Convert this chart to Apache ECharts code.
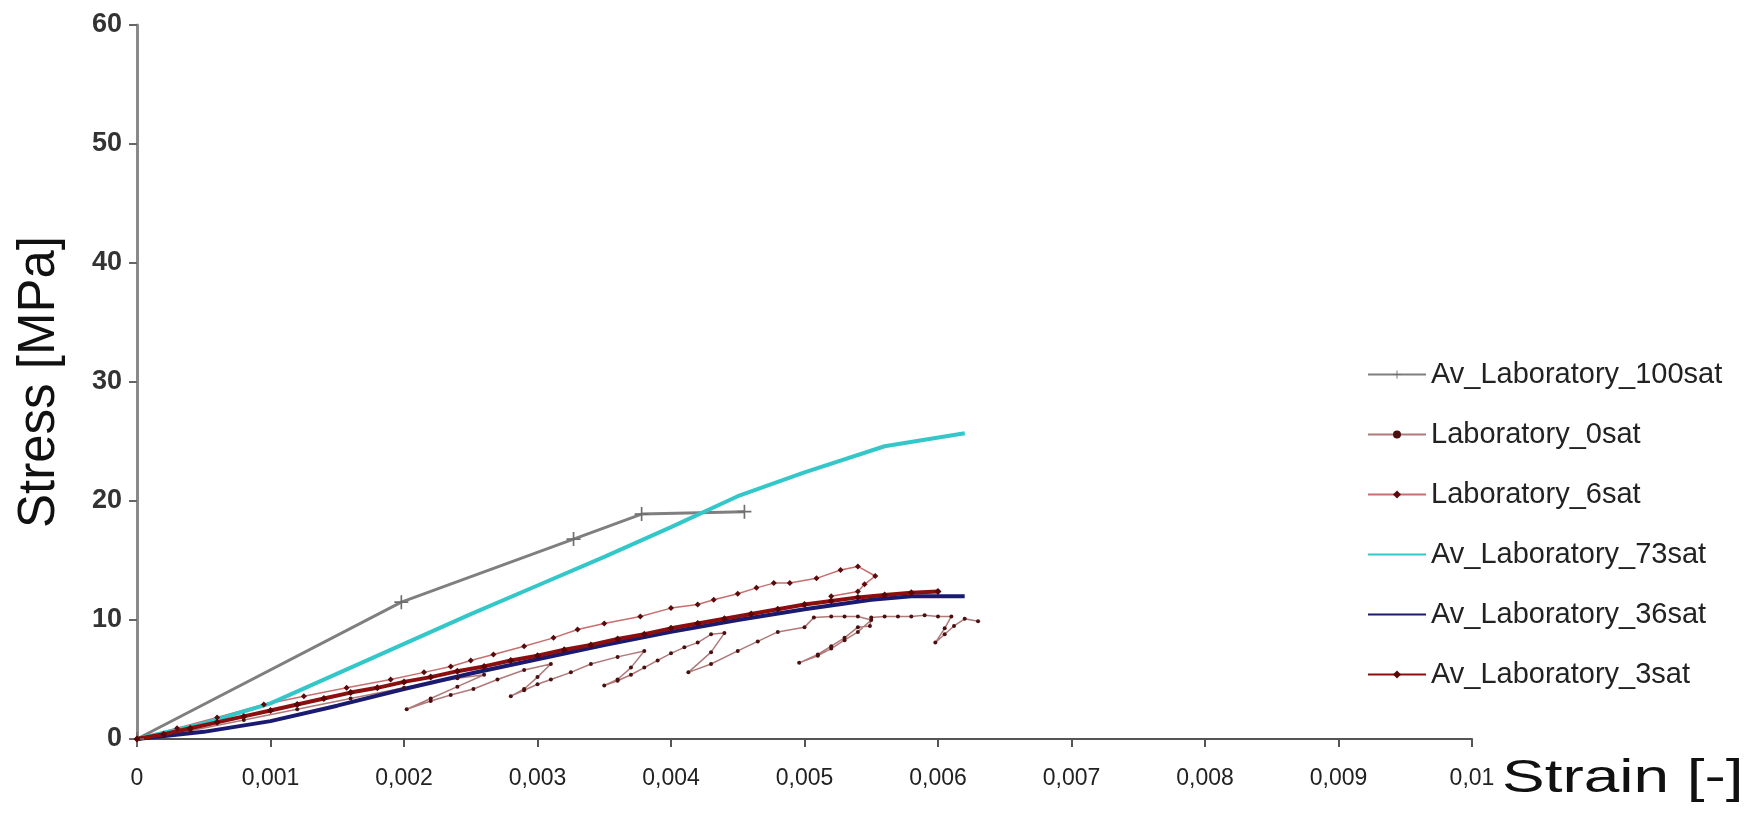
<!DOCTYPE html>
<html>
<head>
<meta charset="utf-8">
<script src="https://cdn.jsdelivr.net/npm/echarts@6/dist/echarts.min.js"></script>
<style>
  html, body { margin: 0; padding: 0; background: #fff; }
  #main { width: 1754px; height: 819px; }
</style>
</head>
<body>
<div id="main"></div>
<script>
// tick labels (comma decimals as in the original)
const xTickLabels = ['0', '0,001', '0,002', '0,003', '0,004', '0,005', '0,006', '0,007', '0,008', '0,009', '0,01'];
const yTicks = [0, 10, 20, 30, 40, 50, 60];

// Av_Laboratory_100sat
const strain100 = [0, 0.00198, 0.00327, 0.00378, 0.00455];
const stress100 = [0, 11.5, 16.8, 18.9, 19.1];

// Laboratory_0sat (cyclic, loops)
const strain0 = [0, 0.0004, 0.0008, 0.0012, 0.0016, 0.002, 0.0024, 0.0026,
  0.0024, 0.0022, 0.00202,
  0.0022, 0.00235, 0.00252, 0.0027, 0.0029, 0.0031,
  0.003, 0.0029, 0.0028,
  0.0029, 0.003, 0.0031, 0.00325, 0.0034, 0.0036, 0.0038,
  0.0037, 0.0036, 0.0035,
  0.0036, 0.0037, 0.0038, 0.0039, 0.004, 0.0041, 0.0042, 0.0043, 0.0044,
  0.0043, 0.00413,
  0.0043, 0.0045, 0.00465, 0.0048, 0.005, 0.00507, 0.0052, 0.0053, 0.0054, 0.0055,
  0.0054, 0.0053, 0.0052, 0.0051, 0.00496,
  0.0051, 0.0052, 0.0053, 0.0054, 0.00549, 0.0055, 0.0056, 0.0057, 0.0058, 0.0059, 0.006, 0.0061,
  0.00605, 0.00598,
  0.00605, 0.00612, 0.0062, 0.0063];
const stress0 = [0, 0.7, 1.6, 2.5, 3.4, 4.3, 5.1, 5.4,
  4.4, 3.4, 2.5,
  3.2, 3.7, 4.2, 5.0, 5.8, 6.3,
  5.2, 4.2, 3.6,
  4.1, 4.6, 5.0, 5.6, 6.3, 6.9, 7.4,
  6.0, 5.0, 4.5,
  4.9, 5.4, 6.0, 6.6, 7.2, 7.7, 8.1, 8.8, 8.9,
  7.3, 5.6,
  6.3, 7.4, 8.2, 9.0, 9.4, 10.2, 10.3, 10.3, 10.3, 10.0,
  9.0, 8.3, 7.6, 7.0, 6.4,
  7.1, 7.8, 8.5, 9.4, 9.5, 10.2, 10.3, 10.3, 10.3, 10.4, 10.3, 10.3,
  9.3, 8.1,
  8.8, 9.5, 10.1, 9.9];

// Laboratory_6sat
const strain6 = [0, 0.0003, 0.0006, 0.00095, 0.00125, 0.00157, 0.0019, 0.00215, 0.00235, 0.0025,
  0.00267, 0.0029, 0.00312, 0.0033, 0.0035, 0.00377, 0.004, 0.0042, 0.00432, 0.0045,
  0.00464, 0.00477, 0.00489, 0.00509, 0.00527, 0.0054, 0.00553, 0.00545, 0.0054, 0.0052];
const stress6 = [0, 0.9, 1.8, 2.9, 3.6, 4.3, 5.0, 5.6, 6.1, 6.6,
  7.1, 7.8, 8.5, 9.2, 9.7, 10.3, 11.0, 11.3, 11.7, 12.2,
  12.7, 13.1, 13.1, 13.5, 14.2, 14.5, 13.7, 13.0, 12.4, 12.0];

// Av_Laboratory_73sat
const strain73 = [0, 0.0005, 0.001, 0.0015, 0.002, 0.0025, 0.003, 0.0035, 0.004, 0.0045, 0.005, 0.0056, 0.0062];
const stress73 = [0, 1.3, 3.0, 5.5, 8.0, 10.5, 12.9, 15.3, 17.8, 20.4, 22.4, 24.6, 25.7];

// Av_Laboratory_36sat
const strain36 = [0, 0.0005, 0.001, 0.0015, 0.002, 0.0025, 0.003, 0.0035, 0.004, 0.0045, 0.005, 0.0055, 0.0058, 0.0062];
const stress36 = [0, 0.6, 1.5, 2.8, 4.2, 5.5, 6.7, 7.9, 9.0, 10.0, 10.9, 11.7, 12.0, 12.0];

// Av_Laboratory_3sat
const strain3 = [0, 0.0002, 0.0004, 0.0006, 0.0008, 0.001, 0.0012, 0.0014, 0.0016, 0.0018, 0.002,
  0.0022, 0.0024, 0.0026, 0.0028, 0.003, 0.0032, 0.0034, 0.0036, 0.0038, 0.004,
  0.0042, 0.0044, 0.0046, 0.0048, 0.005, 0.0052, 0.0054, 0.0056, 0.0058, 0.006];
const stress3 = [0, 0.4, 0.9, 1.4, 1.9, 2.4, 2.9, 3.4, 3.9, 4.3, 4.8,
  5.2, 5.7, 6.1, 6.6, 7.0, 7.5, 7.9, 8.4, 8.8, 9.3,
  9.7, 10.1, 10.5, 10.9, 11.3, 11.6, 11.9, 12.1, 12.3, 12.4];

function pairs(xs, ys) {
  return xs.map((x, i) => [x, ys[i]]);
}

const plusIcon = 'path://M4.4,0h1.2v10h-1.2z M0,4.4h10v1.2h-10z';
const font = 'Liberation Sans, Arial';

const chart = echarts.init(document.getElementById('main'));

const option = {
  animation: false,
  backgroundColor: '#fff',
  grid: { left: 137, right: 282, top: 25, bottom: 80, outerBoundsMode: 'none', containLabel: false },
  legend: {
    orient: 'vertical',
    left: 1362,
    top: 355,
    itemWidth: 58,
    itemHeight: 10,
    itemGap: 31,
    textStyle: { fontSize: 29, color: '#222', fontFamily: font },
    data: [
      'Av_Laboratory_100sat',
      'Laboratory_0sat',
      'Laboratory_6sat',
      { name: 'Av_Laboratory_73sat', itemStyle: { opacity: 0 } },
      { name: 'Av_Laboratory_36sat', itemStyle: { opacity: 0 } },
      'Av_Laboratory_3sat'
    ]
  },
  graphic: [{
    type: 'text',
    left: 1502,
    top: 756,
    scaleX: 1.36,
    style: { text: 'Strain [-]', fontSize: 47, fill: '#111', fontFamily: font }
  }],
  xAxis: {
    type: 'value',
    min: 0,
    max: 0.01,
    interval: 0.001,
    axisLine: { lineStyle: { color: '#555', width: 2 } },
    axisTick: { show: true, length: 8, lineStyle: { color: '#555', width: 2 } },
    splitLine: { show: false },
    axisLabel: {
      margin: 28,
      fontSize: 23,
      color: '#222',
      fontFamily: font,
      formatter: v => xTickLabels[Math.round(v / 0.001)]
    }
  },
  yAxis: {
    type: 'value',
    min: yTicks[0],
    max: yTicks[yTicks.length - 1],
    interval: 10,
    name: 'Stress [MPa]',
    nameLocation: 'middle',
    nameRotate: 90,
    nameGap: 72,
    nameTextStyle: { fontSize: 51, color: '#111', fontFamily: font },
    axisLine: { show: true, lineStyle: { color: '#8a8a8a', width: 3 } },
    axisTick: { show: true, length: 8, lineStyle: { color: '#666', width: 2 } },
    splitLine: { show: false },
    axisLabel: {
      margin: 15,
      fontSize: 27,
      fontWeight: 'bold',
      color: '#333',
      fontFamily: font
    }
  },
  series: [
    {
      name: 'Av_Laboratory_100sat',
      type: 'line',
      data: pairs(strain100, stress100),
      symbol: plusIcon,
      symbolSize: 14,
      lineStyle: { color: '#7f7f7f', width: 3 },
      itemStyle: { color: '#6f6f6f' }
    },
    {
      name: 'Laboratory_0sat',
      type: 'line',
      data: pairs(strain0, stress0),
      symbol: 'circle',
      symbolSize: 4,
      lineStyle: { color: '#b07a7a', width: 1.5 },
      itemStyle: { color: '#4a1010' }
    },
    {
      name: 'Laboratory_6sat',
      type: 'line',
      data: pairs(strain6, stress6),
      symbol: 'diamond',
      symbolSize: 6,
      lineStyle: { color: '#c86e6e', width: 1.5 },
      itemStyle: { color: '#5a0a0a' }
    },
    {
      name: 'Av_Laboratory_73sat',
      type: 'line',
      data: pairs(strain73, stress73),
      symbol: 'none',
      lineStyle: { color: '#33c7c9', width: 4 },
      itemStyle: { color: '#33c7c9' }
    },
    {
      name: 'Av_Laboratory_36sat',
      type: 'line',
      data: pairs(strain36, stress36),
      symbol: 'none',
      lineStyle: { color: '#1a1a70', width: 4 },
      itemStyle: { color: '#1a1a70' }
    },
    {
      name: 'Av_Laboratory_3sat',
      type: 'line',
      data: pairs(strain3, stress3),
      symbol: 'diamond',
      symbolSize: 7,
      lineStyle: { color: '#8b0f0f', width: 4 },
      itemStyle: { color: '#5a0606' }
    }
  ]
};

chart.setOption(option);
</script>
</body>
</html>
